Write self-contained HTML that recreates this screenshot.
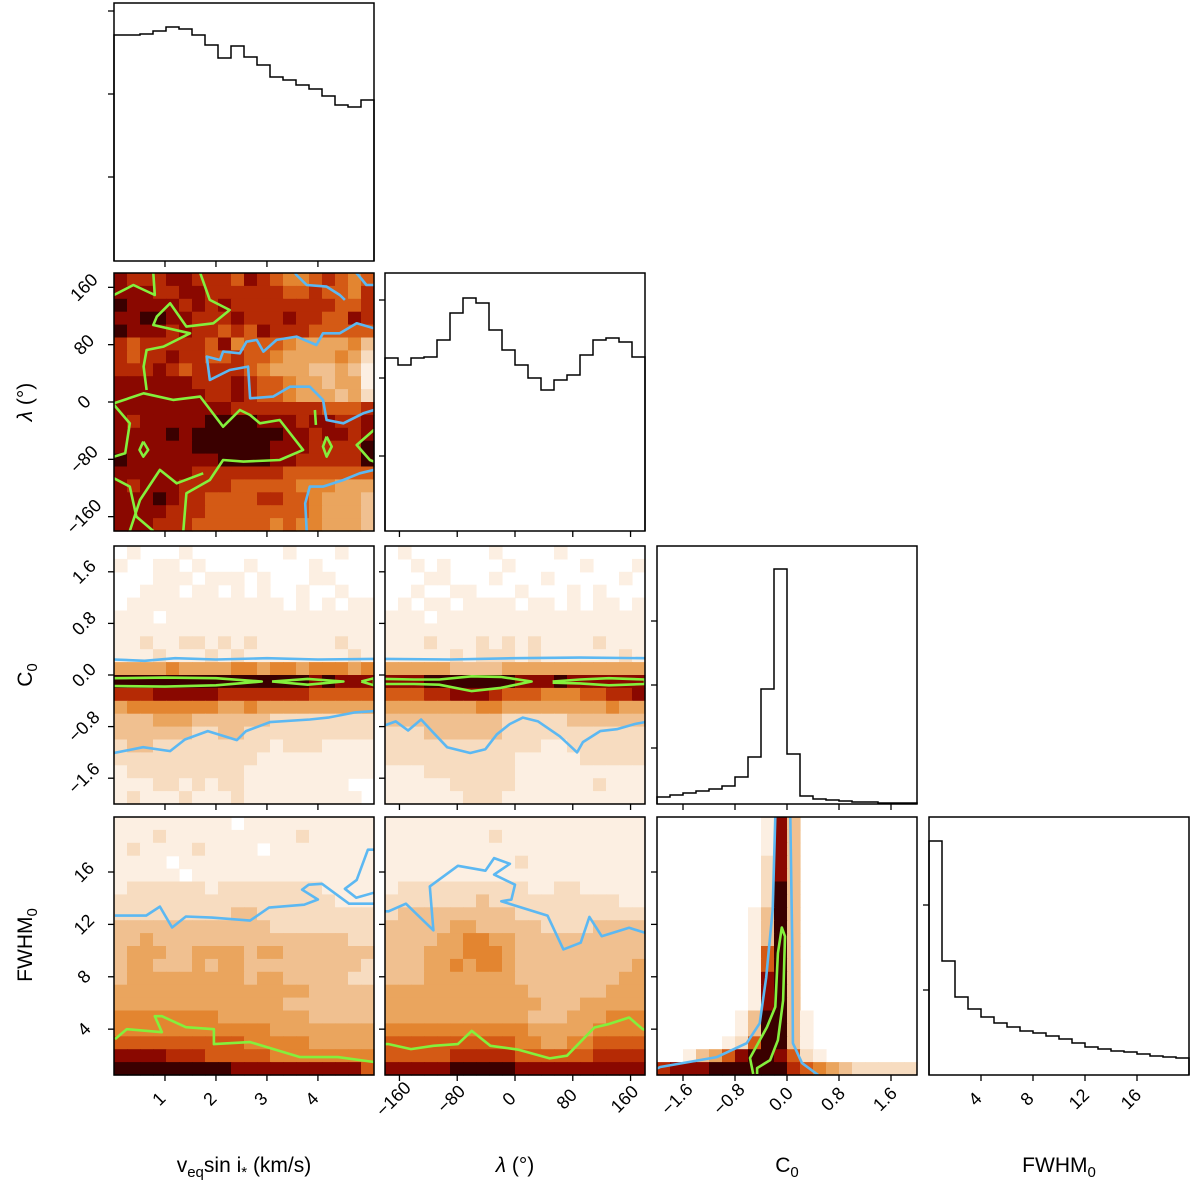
<!DOCTYPE html>
<html><head><meta charset="utf-8"><style>
html,body{margin:0;padding:0;background:#fff;}
svg{display:block;font-family:"Liberation Sans","DejaVu Sans",sans-serif;}
</style></head><body>
<svg id="fig" width="1200" height="1188" viewBox="0 0 1200 1188" xmlns="http://www.w3.org/2000/svg">
<defs id="defs"></defs>
<g id="plots"></g>
<g font-size="21" text-anchor="middle">
<text x="244" y="1172">v<tspan font-size="15" dy="5">eq</tspan><tspan dy="-5">sin i</tspan><tspan font-size="15" dy="5">*</tspan><tspan dy="-5"> (km/s)</tspan></text>
<text x="515" y="1172"><tspan font-style="italic">λ</tspan> (°)</text>
<text x="787" y="1172">C<tspan font-size="15" dy="5">0</tspan></text>
<text x="1059" y="1172">FWHM<tspan font-size="15" dy="5">0</tspan></text>
</g>
<g font-size="21" text-anchor="middle">
<text transform="translate(32,402) rotate(-90)"><tspan font-style="italic">λ</tspan> (°)</text>
<text transform="translate(32,675) rotate(-90)">C<tspan font-size="15" dy="5">0</tspan></text>
<text transform="translate(32,945) rotate(-90)">FWHM<tspan font-size="15" dy="5">0</tspan></text>
</g>
</svg>
<script>
// ---------- data ----------
const colX = [114, 385, 657, 929];
const rowY = [3, 273, 546, 817];
const PW = 260, PH = 258;

const rangeV = [0, 5.1];
const rangeLam = [-180, 180];
const rangeC0 = [-2, 2];
const rangeF = [0.5, 20.2];
const rangeFx = [0, 20];

const ticksV = [1, 2, 3, 4];
const ticksLam = [-160, -80, 0, 80, 160];
const ticksC0 = [-1.6, -0.8, 0.0, 0.8, 1.6];
const ticksF = [4, 8, 12, 16];
const labelsV = ["1", "2", "3", "4"];
const labelsLam = ["−160", "−80", "0", "80", "160"];
const labelsC0 = ["−1.6", "−0.8", "0.0", "0.8", "1.6"];
const labelsF = ["4", "8", "12", "16"];

// 1D histogram counts (20 bins each)
const histV = [226,226,227,230,234,232,226,216,203,215,204,196,184,181,176,172,165,156,154,161];
const histLam = [173,166,173,174,191,218,233,228,201,181,166,153,141,151,156,176,191,193,189,174];
const histC0 = [7,9,11,13,15,18,27,47,115,235,50,8,5,4,3,2,2,1,1,1];
const histF = [234,114,78,66,58,52,48,44,42,39,36,32,28,26,24,23,21,19,18,17];
const histMax = 258;

// 2D histogram intensity grids (rows top->bottom, 0=empty .. 9=densest)
const heatVLam = [
"87778877768765567656","88877887777776676657","98888787877777777667","88998877787778776687",
"98887877676877766666","76777776856665444453","76778776676654444542","77787677776544433431",
"88888877787665443441","88888887787665444342","88888888877777776667","87888889999888788778",
"88889899999998878878","88888899999988877779","98888888999988777779","88888877777776666666",
"87888777766666555444","88898776666776654443","88887776666666654443","88877766666656554443"];
const heatVC0 = [
"01000100000001000100","10011010001000010000","00011101110100011000","00111011010100100100",
"01111111111110101011","11101111111111111111","11111111111111111111","11211221212111111211",
"11121112121111111121","44445444455455455545","99999999999999989888","77788888777777766666",
"45555555445444444444","33344433333322222222","33333322332222222222","23322222222212221111",
"22222222222111111111","12222222221111111111","11122121221111111100","12111211121111111110"];
const heatLamC0 = [
"01000000100001000000","00101000010000010001","00011000100010000010","00100110001000101000",
"01011011110110101101","11101111111111111111","11111111111111111111","11121112121211112111",
"11111212221211111121","44444333344444444444","88899999998889888888","66677888766655566778",
"44444445544444444544","33333333322222333333","22233333322222222222","22222222222211222222",
"22222222221111122222","11122222221111111111","11111222221111112111","11111122211111111111"];
const heatVF = [
"11111111101111111111","11121111111111211111","12111121111011111111","11110111111111111111",
"11111011111111111111","12222221222222221111","22222222222222222111","22222222233222222222",
"33333333333322222222","33433333333333333322","34443344443443333333","34433343443333333332",
"34444444443443333322","44444444444444433333","44444444444443333333","55555555444444433333",
"55555555555544444444","66666666665555544444","88887776666655555555","99999999988888888886"];
const heatLamF = [
"11111111111111111111","11111111211111111111","11111111111111111111","11111111112111111111",
"11111111111111111111","12222222222112211111","22222223222222222211","23333333332222222222",
"33333443333322223333","33334455443333333333","33344455543333333333","33344545543333333334",
"33344444443333333344","44444444444333333444","44444444444433344444","44444444444333444555",
"55555555555444445555","66666666665544556666","66666777776666667777","88888999998888888888"];
const heatC0F = [
"00000000183000000000","00000000183000000000","00000000183000000000","00000000283000000000",
"00000000283000000000","00000000293000000000","00000000293000000000","00000001393000000000",
"00000001393000000000","00000001393000000000","00000001693000000000","00000001693000000000",
"00000001893000000000","00000001893000000000","00000001893000000000","00000013993100000000",
"00000013993100000000","00000126993100000000","00134689986210000000","78889999997654322222"];

// contours (data units)
const cVLamBlue = [
[[5.1,102.8],[4.76,109.8],[4.43,95.9],[4.10,95.9],[3.97,79.6],[3.58,91.2],[3.19,86.6],[2.93,70.3],[2.80,86.6],[2.60,84.2],[2.47,67.9],[2.14,70.3],[2.08,58.6],[1.82,63.3],[1.88,30.8],[2.27,44.7],[2.63,49.4],[2.67,5.2],[3.12,7.5],[3.45,21.4],[3.84,21.4],[4.10,2.9],[4.17,-25.1],[4.50,-29.7],[4.89,-15.8],[5.1,-11.1]],
[[3.55,180],[3.58,177.2],[3.78,163.3],[4.17,161],[4.43,149.3],[4.53,142.4]],
[[4.75,180],[4.79,177.2],[4.95,163.3],[5.1,163.3]],
[[5.1,-94.8],[4.82,-99.5],[4.5,-108.8],[4.1,-118],[3.84,-118],[3.75,-141.3],[3.78,-180]]];
const cVLamGreen = [
[[0,-1.8],[0.58,12.2],[1.16,2.9],[1.69,7.5],[2.14,-34.4],[2.47,-11.1],[2.67,-18.1],[2.86,-29.7],[3.25,-25.1],[3.71,-66.9],[3.25,-80.9],[2.54,-83.2],[2.14,-80.9],[1.88,-108.8],[1.42,-127.4],[1.36,-180]],
[[1.69,180],[1.88,142.4],[2.27,128.4],[1.95,109.8],[1.42,105.2],[1.10,137.7],[0.84,119.1],[0.77,107.5],[1.49,95.9],[0.97,77.3],[0.64,72.6],[0.58,49.4],[0.64,16.8]],
[[0,149.3],[0.38,163.3],[0.80,149.3],[0.77,180]],
[[0,-4.1],[0.31,-29.7],[0.22,-71.6],[0,-76.2]],
[[0,-106.4],[0.31,-118],[0.44,-159.9],[0.77,-180]],
[[0.31,-180],[0.51,-136.7],[0.9,-94.8],[1.23,-113.4],[1.75,-99.5]],
[[5.1,-39],[4.76,-60],[5.02,-80.9],[5.1,-83.2]],
[[0.575,-55.3],[0.67,-66.9],[0.575,-76.2],[0.5,-66.9],[0.575,-55.3]],
[[4.17,-48.3],[4.27,-62.2],[4.17,-76.2],[4.1,-62.2],[4.17,-48.3]],
[[3.94,-11.1],[3.96,-32]]];
const cVC0Blue = [
[[0,0.24],[0.6,0.22],[1.2,0.26],[2,0.24],[3,0.26],[4,0.24],[5.1,0.25]],
[[0,-1.21],[0.57,-1.12],[1.10,-1.18],[1.39,-1.0],[1.84,-0.87],[2.41,-1.01],[2.59,-0.87],[3.06,-0.73],[3.84,-0.69],[4.2,-0.66],[4.73,-0.58],[5.1,-0.56]]];
const cVC0Green = [
[[0,-0.05],[1.0,-0.04],[2.0,-0.05],[2.9,-0.1],[2.0,-0.16],[1.0,-0.18],[0,-0.17]],
[[3.1,-0.1],[3.8,-0.06],[4.5,-0.1],[3.8,-0.15],[3.1,-0.1]],
[[4.85,-0.1],[5.1,-0.05],[5.1,-0.16],[4.85,-0.1]]];
const cLamC0Blue = [
[[-180,0.25],[-90,0.24],[0,0.26],[90,0.27],[180,0.26]],
[[-180,-0.78],[-165,-0.72],[-148,-0.86],[-130,-0.69],[-115,-0.87],[-94,-1.12],[-62,-1.21],[-41,-1.15],[-25,-0.92],[-7,-0.76],[11,-0.66],[32,-0.72],[62,-0.95],[86,-1.2],[94,-1.04],[118,-0.87],[141,-0.84],[166,-0.76],[180,-0.73]]];
const cLamC0Green = [
[[-180,-0.06],[-140,-0.07],[-105,-0.07],[-60,-0.02],[-20,-0.03],[23,-0.1],[-20,-0.2],[-60,-0.25],[-105,-0.15],[-140,-0.14],[-180,-0.14]],
[[52,-0.1],[90,-0.07],[130,-0.05],[180,-0.07],[180,-0.14],[130,-0.16],[90,-0.13],[52,-0.12]]];
const cVFBlue = [
[[0.02,12.67],[0.63,12.67],[0.9,13.36],[1.14,11.76],[1.41,12.6],[1.92,12.52],[2.67,12.29],[3.04,13.28],[3.73,13.5],[4.0,13.9],[3.69,14.65],[3.82,15.03],[4.08,15.1],[4.61,13.58],[5.1,13.58]],
[[5.1,17.7],[4.98,17.7],[4.76,15.4],[4.53,14.72],[4.75,14.04],[5.1,14.42]]];
const cVFGreen = [
[[0.02,3.24],[0.25,4.0],[0.94,3.77],[0.8,4.99],[0.94,4.99],[1.41,4.15],[1.96,4.0],[1.96,2.86],[2.67,3.01],[3.65,1.87],[4.39,1.87],[5.1,1.49]]];
const cLamFBlue = [
[[-180,13.0],[-175,13.0],[-151,13.58],[-113,11.55],[-118,14.9],[-79,16.47],[-41,16.1],[-29,17.06],[-7,16.63],[-29,15.8],[0,15.03],[-5,13.89],[-19,13.76],[45,12.67],[67,10.09],[91,10.6],[103,12.57],[120,11.1],[158,11.74],[180,11.36]]];
const cLamFGreen = [
[[-180,2.86],[-175,2.86],[-144,2.48],[-113,2.73],[-79,2.86],[-60,3.87],[-34,2.73],[5,2.43],[48,1.77],[72,1.97],[110,4.13],[129,4.38],[158,4.89],[177,4.0],[180,3.97]]];
const cC0FBlue = [
[[-2,1.0],[-1.95,1.11],[-1.08,1.87],[-0.62,2.93],[-0.42,4.45],[-0.32,7.95],[-0.22,13.13],[-0.18,20.2]],
[[0.05,20.2],[0.08,10.62],[0.09,2.93],[0.23,1.41],[0.48,0.5]]];
const cC0FGreen = [
[[-0.52,0.58],[-0.57,1.8],[-0.31,4.15],[-0.18,5.7],[-0.14,9.8],[-0.08,11.76],[-0.03,11.08],[-0.06,6.2],[-0.14,3.16],[-0.26,1.64],[-0.46,1.03],[-0.46,0.58]]];

const cmap = ['#ffffff','#fcefe2','#f7dcc0','#f0c090','#eaa55e','#e38530','#d45a15','#b52a05','#8a0800','#3a0000'];
const BLUE = '#5cb8f2', GREEN = '#84f03c';

// ---------- rendering ----------
const NS = 'http://www.w3.org/2000/svg';
const plots = document.getElementById('plots');
const defs = document.getElementById('defs');
function mk(tag, attrs, parent) {
  const e = document.createElementNS(NS, tag);
  for (const k in attrs) e.setAttribute(k, attrs[k]);
  (parent || plots).appendChild(e);
  return e;
}
function scaler(r, c, xr, yr) {
  const x0 = colX[c], y0 = rowY[r];
  return {
    x0, y0,
    sx: v => x0 + (v - xr[0]) / (xr[1] - xr[0]) * PW,
    sy: v => y0 + PH - (v - yr[0]) / (yr[1] - yr[0]) * PH
  };
}
let clipId = 0;
function frame(g, S, name) {
  const f = mk('rect', {x: S.x0, y: S.y0, width: PW, height: PH, fill: 'none', stroke: '#000', 'stroke-width': 1.5}, g);
  
  
}
function xTicks(g, S, ticks, labels, show, name) {
  ticks.forEach((t, i) => {
    const x = S.sx(t);
    const tk = mk('line', {x1: x, x2: x, y1: S.y0 + PH, y2: S.y0 + PH + 6, stroke: '#000', 'stroke-width': 1.3}, g);
    
    
    if (show) {
      const cx = x - 6, cy = S.y0 + PH + 24;
      const tx = mk('text', {x: cx, y: cy + 6, 'text-anchor': 'middle', 'font-size': 18, transform: `rotate(-45 ${cx} ${cy})`}, g);
      tx.textContent = labels[i];
      
      
    }
  });
}
function yTicks(g, S, ticks, labels, show, name) {
  ticks.forEach((t, i) => {
    const y = S.sy(t);
    const tk = mk('line', {x1: S.x0 - 6, x2: S.x0, y1: y, y2: y, stroke: '#000', 'stroke-width': 1.3}, g);
    
    
    if (show) {
      const cx = S.x0 - 30, cy = y;
      const tx = mk('text', {x: cx, y: cy + 6, 'text-anchor': 'middle', 'font-size': 18, transform: `rotate(-45 ${cx} ${cy})`}, g);
      tx.textContent = labels[i];
      
      
    }
  });
}
function heat(g, S, grid, name) {
  const n = grid.length, m = grid[0].length;
  const cw = PW / m, ch = PH / n;
  grid.forEach((row, i) => {
    for (let j = 0; j < m; j++) {
      const v = +row[j];
      if (v === 0) continue;
      const c = mk('rect', {x: S.x0 + j * cw, y: S.y0 + i * ch, width: cw + 0.6, height: ch + 0.6, fill: cmap[v]}, g);
      
      
    }
  });
}
function contours(g, S, lines, color, name) {
  const id = 'clip' + (clipId++);
  const cp = mk('clipPath', {id}, defs);
  mk('rect', {x: S.x0, y: S.y0, width: PW, height: PH}, cp);
  const cg = mk('g', {'clip-path': `url(#${id})`}, g);
  lines.forEach(pts => {
    const p = mk('polyline', {points: pts.map(q => S.sx(q[0]).toFixed(1) + ',' + S.sy(q[1]).toFixed(1)).join(' '), fill: 'none', stroke: color, 'stroke-width': 2.6, 'stroke-linejoin': 'round'}, cg);
    
    
  });
}
function hist1d(g, r, c, counts, name) {
  const S = scaler(r, c, [0, counts.length], [0, histMax]);
  let d = `M${S.sx(0)},${S.sy(0)}`;
  counts.forEach((v, i) => { d += ` L${S.sx(i)},${S.sy(v)} L${S.sx(i + 1)},${S.sy(v)}`; });
  d += ` L${S.sx(counts.length)},${S.sy(0)}`;
  const p = mk('path', {d, fill: 'none', stroke: '#000', 'stroke-width': 1.5}, g);
  
  
  return S;
}
function panel(name) {
  const g = mk('g', {});
  
  
  return g;
}

// diagonal histograms
(function () {
  let g = panel('hist-vsini');
  let S = hist1d(g, 0, 0, histV, 'hist-vsini');
  frame(g, S, 'hist-vsini');
  [11, 94, 177].forEach(y => { const t = mk('line', {x1: S.x0 - 6, x2: S.x0, y1: y, y2: y, stroke: '#000', 'stroke-width': 1.3}, g);   });
  xTicks(g, S, [1, 2, 3, 4].map(v => v / 5.1 * 20), [], false, 'hist-vsini');

  g = panel('hist-lambda');
  S = hist1d(g, 1, 1, histLam, 'hist-lambda');
  frame(g, S, 'hist-lambda');
  [300, 378, 456].forEach(y => { const t = mk('line', {x1: S.x0 - 6, x2: S.x0, y1: y, y2: y, stroke: '#000', 'stroke-width': 1.3}, g);   });
  xTicks(g, S, ticksLam.map(v => (v + 180) / 360 * 20), [], false, 'hist-lambda');

  g = panel('hist-c0');
  S = hist1d(g, 2, 2, histC0, 'hist-c0');
  frame(g, S, 'hist-c0');
  [621, 685, 748].forEach(y => { const t = mk('line', {x1: S.x0 - 6, x2: S.x0, y1: y, y2: y, stroke: '#000', 'stroke-width': 1.3}, g);   });
  xTicks(g, S, ticksC0.map(v => (v + 2) / 4 * 20), [], false, 'hist-c0');

  g = panel('hist-fwhm');
  S = hist1d(g, 3, 3, histF, 'hist-fwhm');
  frame(g, S, 'hist-fwhm');
  [905, 990].forEach(y => { const t = mk('line', {x1: S.x0 - 6, x2: S.x0, y1: y, y2: y, stroke: '#000', 'stroke-width': 1.3}, g);   });
  xTicks(g, S, ticksF, labelsF, true, 'hist-fwhm');
})();

// 2D panels
const specs = [
  {r: 1, c: 0, xr: rangeV, yr: rangeLam, grid: heatVLam, blue: cVLamBlue, green: cVLamGreen, xt: ticksV, xl: labelsV, yt: ticksLam, yl: labelsLam, name: 'panel-vsini-lambda'},
  {r: 2, c: 0, xr: rangeV, yr: rangeC0, grid: heatVC0, blue: cVC0Blue, green: cVC0Green, xt: ticksV, xl: labelsV, yt: ticksC0, yl: labelsC0, name: 'panel-vsini-c0'},
  {r: 2, c: 1, xr: rangeLam, yr: rangeC0, grid: heatLamC0, blue: cLamC0Blue, green: cLamC0Green, xt: ticksLam, xl: labelsLam, yt: ticksC0, yl: labelsC0, name: 'panel-lambda-c0'},
  {r: 3, c: 0, xr: rangeV, yr: rangeF, grid: heatVF, blue: cVFBlue, green: cVFGreen, xt: ticksV, xl: labelsV, yt: ticksF, yl: labelsF, name: 'panel-vsini-fwhm'},
  {r: 3, c: 1, xr: rangeLam, yr: rangeF, grid: heatLamF, blue: cLamFBlue, green: cLamFGreen, xt: ticksLam, xl: labelsLam, yt: ticksF, yl: labelsF, name: 'panel-lambda-fwhm'},
  {r: 3, c: 2, xr: rangeC0, yr: rangeF, grid: heatC0F, blue: cC0FBlue, green: cC0FGreen, xt: ticksC0, xl: labelsC0, yt: ticksF, yl: labelsF, name: 'panel-c0-fwhm'}
];
specs.forEach(s => {
  const g = panel(s.name);
  const S = scaler(s.r, s.c, s.xr, s.yr);
  heat(g, S, s.grid, s.name);
  contours(g, S, s.blue, BLUE, s.name + '-contour-outer');
  contours(g, S, s.green, GREEN, s.name + '-contour-inner');
  frame(g, S, s.name);
  xTicks(g, S, s.xt, s.xl, s.r === 3, s.name);
  yTicks(g, S, s.yt, s.yl, s.c === 0, s.name);
});
</script>
</body></html>
